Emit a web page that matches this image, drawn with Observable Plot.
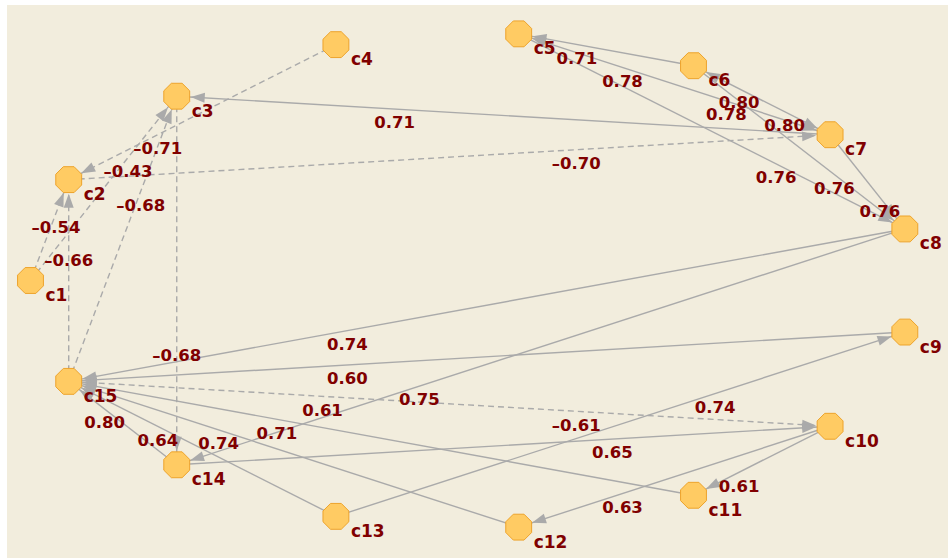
<!DOCTYPE html>
<html><head><meta charset="utf-8">
<script src="https://cdn.jsdelivr.net/npm/d3@7"></script>
<script src="https://cdn.jsdelivr.net/npm/@observablehq/plot@0.6"></script>
<style>
html,body{margin:0;padding:0;background:#fff;}
#chart{position:absolute;left:7px;top:5px;}
</style></head><body><div id="chart"></div>
<script>
// ---- data ----
const nodes = ["c1","c2","c3","c4","c5","c6","c7","c8","c9","c10","c11","c12","c13","c14","c15"];
const sources = ["c1","c15","c4","c1","c15","c7","c3","c2","c6","c7","c5","c7","c6","c5","c6","c7","c8","c9","c15","c10","c8","c11","c12","c13","c14","c13","c14","c10","c10"];
const targets = ["c2","c2","c2","c3","c3","c3","c14","c7","c5","c5","c7","c6","c7","c8","c8","c8","c15","c15","c10","c15","c14","c15","c15","c15","c15","c9","c10","c12","c11"];
const weights = [-0.54,-0.66,-0.71,-0.43,-0.68,0.71,-0.68,-0.70,0.71,0.78,0.78,0.80,0.80,0.76,0.76,0.76,0.74,0.60,-0.61,0.61,0.75,0.71,0.74,0.64,0.80,0.74,0.65,0.63,0.61];

// ---- circular layout (1 data unit = 1 px) ----
const RX = 442, RY = 248, NODE_R = 14;
const pos = new Map(nodes.map((n, i) => {
  const a = Math.PI - i * 2 * Math.PI / nodes.length;
  return [n, {x: RX * Math.cos(a), y: RY * Math.sin(a)}];
}));
const nodeData = nodes.map(n => ({name: n, ...pos.get(n)}));

const edges = sources.map((s, i) => {
  const a = pos.get(s), b = pos.get(targets[i]);
  const dx = b.x - a.x, dy = b.y - a.y, len = Math.hypot(dx, dy);
  const ux = dx / len, uy = dy / len;
  return {
    s, t: targets[i], w: weights[i],
    x1: a.x, y1: a.y, x2: b.x, y2: b.y,
    lx: a.x + dx * 2 / 3, ly: a.y + dy * 2 / 3,
    tipx: b.x - ux * NODE_R, tipy: b.y - uy * NODE_R,
    rot: Math.atan2(ux, uy) * 180 / Math.PI,
    label: (weights[i] < 0 ? "\u2013" : "") + Math.abs(weights[i]).toFixed(2)
  };
});

// one line per node pair, dashed when a negative link is present
const pairMap = new Map();
for (const e of edges) {
  const k = [e.s, e.t].sort().join("|");
  if (!pairMap.has(k)) pairMap.set(k, {...e, neg: e.w < 0});
  else if (e.w < 0) pairMap.get(k).neg = true;
}
const pairs = [...pairMap.values()];

const arrowHead = {
  draw(ctx) { ctx.moveTo(0, 0); ctx.lineTo(-5, 14); ctx.lineTo(5, 14); ctx.closePath(); }
};
const octagon = {
  draw(ctx) {
    const r = NODE_R;
    for (let k = 0; k < 8; k++) {
      const a = Math.PI / 8 + k * Math.PI / 4;
      const px = r * Math.cos(a), py = r * Math.sin(a);
      k ? ctx.lineTo(px, py) : ctx.moveTo(px, py);
    }
    ctx.closePath();
  }
};

const RED = "#800000", GREY = "#aaaaaa";
const chart = Plot.plot({
  width: 941, height: 553,
  marginLeft: 23, marginRight: 34, marginTop: 27, marginBottom: 30,
  x: {domain: [-RX, RX], axis: null},
  y: {domain: [-RY, RY], axis: null},
  style: {background: "#f2eddd"},
  marks: [
    Plot.link(pairs.filter(d => !d.neg), {x1: "x1", y1: "y1", x2: "x2", y2: "y2", stroke: GREY, strokeWidth: 1.4}),
    Plot.link(pairs.filter(d => d.neg), {x1: "x1", y1: "y1", x2: "x2", y2: "y2", stroke: GREY, strokeWidth: 1.4, strokeDasharray: "6,4"}),
    Plot.dot(edges, {x: "tipx", y: "tipy", rotate: "rot", symbol: arrowHead, fill: GREY, stroke: "none"}),
    Plot.dot(nodeData, {x: "x", y: "y", symbol: octagon, fill: "#ffcb63", stroke: "#eda32b", strokeWidth: 1}),
    Plot.text(edges, {x: "lx", y: "ly", text: "label", dy: 14, fill: RED, fontSize: 16.5, fontWeight: "bold", fontFamily: "DejaVu Sans"}),
    Plot.text(nodeData, {x: "x", y: "y", text: "name", dx: 15, dy: 15, textAnchor: "start", fill: RED, fontSize: 17, fontWeight: "bold", fontFamily: "DejaVu Sans"})
  ]
});
document.getElementById("chart").append(chart);
</script>
</body></html>
